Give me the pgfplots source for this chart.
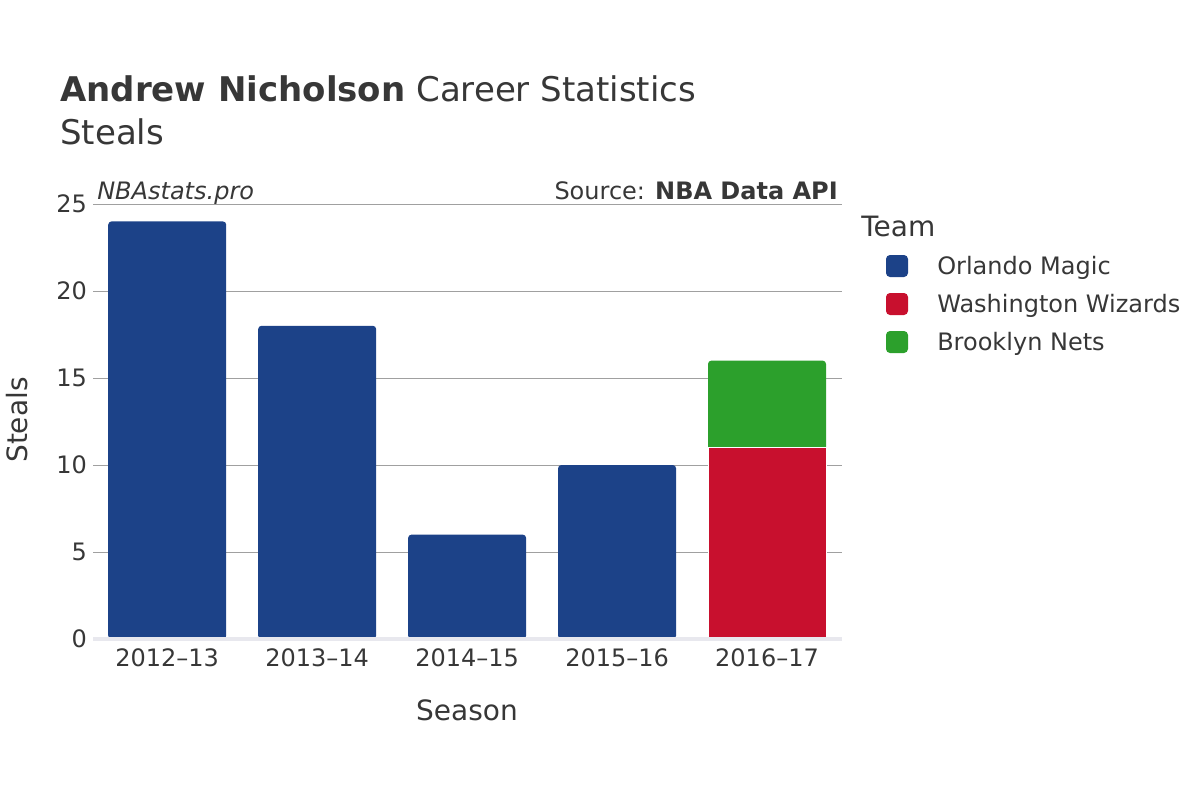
\documentclass[border=0pt]{standalone}
\usepackage{pgfplots}
\pgfplotsset{compat=1.18}
\usepackage{fontspec}
\setmainfont{DejaVu Sans}
\definecolor{magic}{RGB}{28,66,136}
\definecolor{wizards}{RGB}{200,16,46}
\definecolor{nets}{RGB}{44,160,44}
\definecolor{txt}{RGB}{55,55,55}
\definecolor{gridc}{RGB}{160,160,160}
\begin{document}
\begin{tikzpicture}[x=0.75pt,y=-0.75pt,font=\color{txt}]
\useasboundingbox (0,0) rectangle (1200,800);
\begin{axis}[
    at={(69.75pt,-479.25pt)}, anchor=south west,
    scale only axis,
    width=561.75pt, height=326.25pt,
    xmin=-0.495, xmax=4.5,
    ymin=0, ymax=25,
    ytick={0,5,10,15,20,25},
    xtick={0,1,2,3,4},
    xticklabels={2012--13,2013--14,2014--15,2015--16,2016--17},
    ymajorgrids,
    grid style={gridc, line width=0.75pt},
    axis line style={draw=none},
    major tick length=0pt,
    tick label style={font=\fontsize{18}{21}\selectfont\color{txt}},
    xticklabel style={yshift=-3.5pt},
    yticklabel style={xshift=-1pt},
    ybar, bar width=88.5pt, bar shift=0pt,
    /pgf/number format/assume math mode=true,
    clip=false,
]
\addplot[fill=magic, draw=none, rounded corners=2.5pt] coordinates {(0,24) (1,18) (2,6) (3,10)};
\addplot[fill=nets, draw=none, rounded corners=2.5pt] coordinates {(4,16)};
\addplot[fill=wizards, draw=white, line width=0.4pt] coordinates {(4,11)};
\draw[color={rgb,255:red,232;green,232;blue,238}, line width=2.5pt] (axis cs:-0.495,0) -- (axis cs:4.5,0);
\end{axis}
% titles
\node[anchor=base west, inner sep=0, font=\fontsize{25.5}{30}\selectfont\color{txt}] at (60,101) {\textbf{Andrew Nicholson} Career Statistics};
\node[anchor=base west, inner sep=0, font=\fontsize{25.5}{30}\selectfont\color{txt}] at (60,144) {Steals};
\node[anchor=base west, inner sep=0, font=\fontsize{18}{21}\selectfont\itshape\color{txt}] at (97,199) {NBAstats.pro};
\node[anchor=base east, inner sep=0, font=\fontsize{18}{21}\selectfont\color{txt}] at (838,199) {Source: \textbf{NBA Data API}};
% axis labels
\node[rotate=90, inner sep=0, font=\fontsize{21}{25}\selectfont\color{txt}] at (17,420) {Steals};
\node[anchor=base, inner sep=0, font=\fontsize{21}{25}\selectfont\color{txt}] at (467,720) {Season};
% legend
\node[anchor=base west, inner sep=0, font=\fontsize{21}{25}\selectfont\color{txt}] at (861,236) {Team};
\fill[magic, rounded corners=3pt] (886,255) rectangle (908,277);
\fill[wizards, rounded corners=3pt] (886,293) rectangle (908,315);
\fill[nets, rounded corners=3pt] (886,331) rectangle (908,353);
\node[anchor=base west, inner sep=0, font=\fontsize{18}{21}\selectfont\color{txt}] at (937,274) {Orlando Magic};
\node[anchor=base west, inner sep=0, font=\fontsize{18}{21}\selectfont\color{txt}] at (937,312) {Washington Wizards};
\node[anchor=base west, inner sep=0, font=\fontsize{18}{21}\selectfont\color{txt}] at (937,350) {Brooklyn Nets};
\end{tikzpicture}
\end{document}
